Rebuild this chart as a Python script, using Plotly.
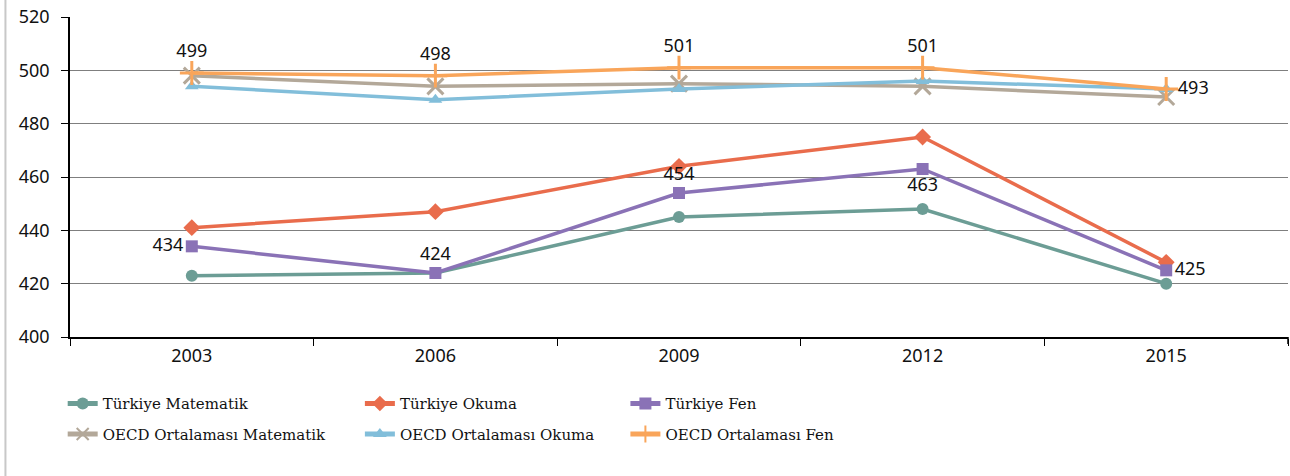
import plotly.graph_objects as go

years = ["2003", "2006", "2009", "2012", "2015"]

turkiye_matematik = [423, 424, 445, 448, 420]
turkiye_okuma = [441, 447, 464, 475, 428]
turkiye_fen = [434, 424, 454, 463, 425]
oecd_matematik = [498, 494, 495, 494, 490]
oecd_okuma = [494, 489, 493, 496, 493]
oecd_fen = [499, 498, 501, 501, 493]

fen_label_pos = ["middle left", "top center", "top center", "bottom center", "middle right"]
oecd_fen_label_pos = ["top center", "top center", "top center", "top center", "middle right"]

TICK_FONT = dict(family="Noto Sans", size=18, color="#111111")
LEGEND_FONT = dict(family="DejaVu Serif", size=15, color="#111111")

fig = go.Figure()


def add_series(name, values, color, symbol, size, legend, mline=0, text=None, textpos=None):
    fig.add_trace(go.Scatter(
        x=years, y=values, name=name, mode="lines+markers" + ("+text" if text else ""),
        line=dict(color=color, width=3.5),
        marker=dict(symbol=symbol, size=size, color=color,
                    line=dict(color=color, width=mline)),
        text=text, textposition=textpos,
        textfont=dict(family="Noto Sans", size=18, color="#111111"),
        legend=legend, legendgroup=name, cliponaxis=False,
    ))


add_series("Türkiye Matematik", turkiye_matematik, "#6C9D95", "circle", 12, "legend")
add_series("Türkiye Okuma", turkiye_okuma, "#E96C4C", "diamond", 13, "legend2")
add_series("Türkiye Fen", turkiye_fen, "#8A72B6", "square", 12, "legend3",
           text=[str(v) for v in turkiye_fen], textpos=fen_label_pos)
add_series("OECD Ortalaması Matematik", oecd_matematik, "#B3A899", "x-thin-open", 16, "legend", mline=3)
add_series("OECD Ortalaması Okuma", oecd_okuma, "#82BEDA", "triangle-up", 12, "legend2")
add_series("OECD Ortalaması Fen", oecd_fen, "#F9A55A", "cross-thin-open", 17, "legend3", mline=3,
           text=[str(v) for v in oecd_fen], textpos=oecd_fen_label_pos)

legend_common = dict(orientation="v", yanchor="top", y=-0.157, font=LEGEND_FONT,
                     bgcolor="rgba(0,0,0,0)", tracegroupgap=8, itemwidth=30,
                     itemsizing="constant")

fig.update_layout(
    width=1290, height=476,
    margin=dict(l=70, r=2, t=17, b=139),
    paper_bgcolor="white", plot_bgcolor="white",
    showlegend=True,
    legend=dict(x=-0.006, **legend_common),
    legend2=dict(x=0.238, **legend_common),
    legend3=dict(x=0.456, **legend_common),
    xaxis=dict(
        type="category", range=[-0.5, 4.5], tickson="boundaries", ticks="outside", ticklen=7,
        tickcolor="#000000", showline=True, linecolor="#000000", linewidth=1.5,
        showgrid=False, tickfont=TICK_FONT, mirror=False, ticklabelstandoff=2,
    ),
    yaxis=dict(
        range=[400, 520], dtick=20, ticks="outside", ticklen=7, tickcolor="#000000",
        showline=True, linecolor="#000000", linewidth=1.5,
        showgrid=True, gridcolor="#7f7f7f", gridwidth=1.2,
        tickfont=TICK_FONT, zeroline=False, ticklabelstandoff=8,
    ),
    shapes=[
        dict(type="line", xref="paper", yref="paper",
             x0=-0.053, x1=-0.053, y0=-0.5, y1=1.1,
             line=dict(color="#c8c8c8", width=2)),
        dict(type="line", xref="paper", yref="paper",
             x0=1, x1=1, y0=0, y1=-0.022,
             line=dict(color="#000000", width=1.5)),
    ],
)

fig.write_html("out.html")
